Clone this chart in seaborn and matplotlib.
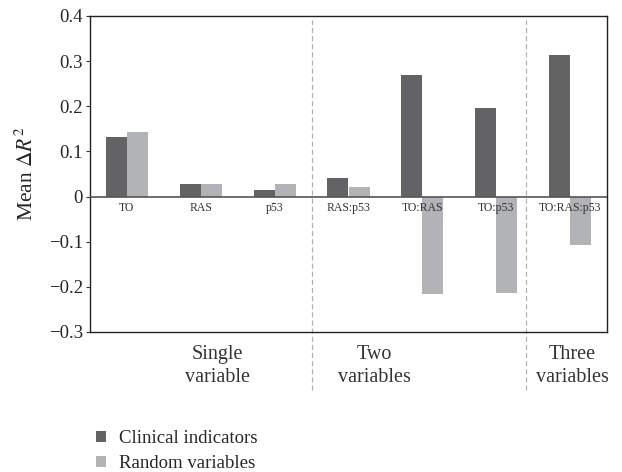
import matplotlib
matplotlib.use("Agg")
import matplotlib.pyplot as plt
import seaborn as sns
import pandas as pd
import numpy as np

categories = ["TO", "RAS", "p53", "RAS:p53", "TO:RAS", "TO:p53", "TO:RAS:p53"]
clinical = [0.132, 0.028, 0.015, 0.041, 0.269, 0.196, 0.314]
random_vars = [0.143, 0.028, 0.028, 0.021, -0.215, -0.213, -0.107]
series_names = ["Clinical indicators", "Random variables"]
group_labels = ["Single\nvariable", "Two\nvariables", "Three\nvariables"]
group_label_x = [1.23, 3.35, 6.03]
separators = [2.5, 5.4]
yticks = [0.4, 0.3, 0.2, 0.1, 0.0, -0.1, -0.2, -0.3]
ytick_labels = ["0.4", "0.3", "0.2", "0.1", "0", "\u22120.1", "\u22120.2", "\u22120.3"]
colors = ["#636366", "#b2b3b7"]

df = pd.DataFrame({
    "category": categories * 2,
    "value": clinical + random_vars,
    "series": [series_names[0]] * len(categories) + [series_names[1]] * len(categories),
})

sns.set_theme(style="white")
plt.rcParams["font.family"] = ["Liberation Serif", "DejaVu Serif"]
plt.rcParams["mathtext.fontset"] = "stix"

fig = plt.figure(figsize=(6.22, 4.72), dpi=100)
ax = fig.add_axes([90 / 622, 1 - 332 / 472, 517 / 622, 316 / 472])

sns.barplot(data=df, x="category", y="value", hue="series", order=categories,
            hue_order=series_names, palette=colors, width=0.57, saturation=1,
            edgecolor="none", linewidth=0, ax=ax, legend=True)

ax.set_xlim(-0.5, len(categories) - 0.5)
ax.set_ylim(-0.3, 0.4)
ax.set_yticks(yticks)
ax.set_yticklabels(ytick_labels, fontsize=13.5)
ax.tick_params(axis="y", direction="out", length=3, width=0.8, color="#333333", pad=2, left=True)
ax.set_xticks([])
ax.set_xlabel("")
ax.set_ylabel("Mean $\\Delta R^2$", fontsize=15.5, labelpad=8)

for s in ax.spines.values():
    s.set_color("#222222")
    s.set_linewidth(1.0)

ax.axhline(0, color="#555555", linewidth=1.2, zorder=3)

for i, c in enumerate(categories):
    ax.text(i, -0.011, c, ha="center", va="top", fontsize=8.5, color="#333333", zorder=4)

for xs in separators:
    ax.axvline(xs, ymin=-0.184, ymax=0.987, color="#b0b0b0", linestyle=(0, (4, 2.5)),
               linewidth=0.9, clip_on=False, zorder=1)

trans = matplotlib.transforms.blended_transform_factory(ax.transData, ax.transAxes)
for x, lab in zip(group_label_x, group_labels):
    ax.text(x, -0.042, lab, ha="center", va="top", fontsize=14.5, color="#333333",
            transform=trans, linespacing=1.3)

handles, labels = ax.get_legend_handles_labels()
ax.get_legend().remove()
fig.legend(handles, labels, loc="upper left", bbox_to_anchor=(96 / 622, 1 - 430 / 472),
           frameon=False, fontsize=13.5, handlelength=0.55, handleheight=0.55,
           handletextpad=0.7, labelspacing=0.45, borderaxespad=0, borderpad=0)

fig.savefig("out.png", dpi=100)
